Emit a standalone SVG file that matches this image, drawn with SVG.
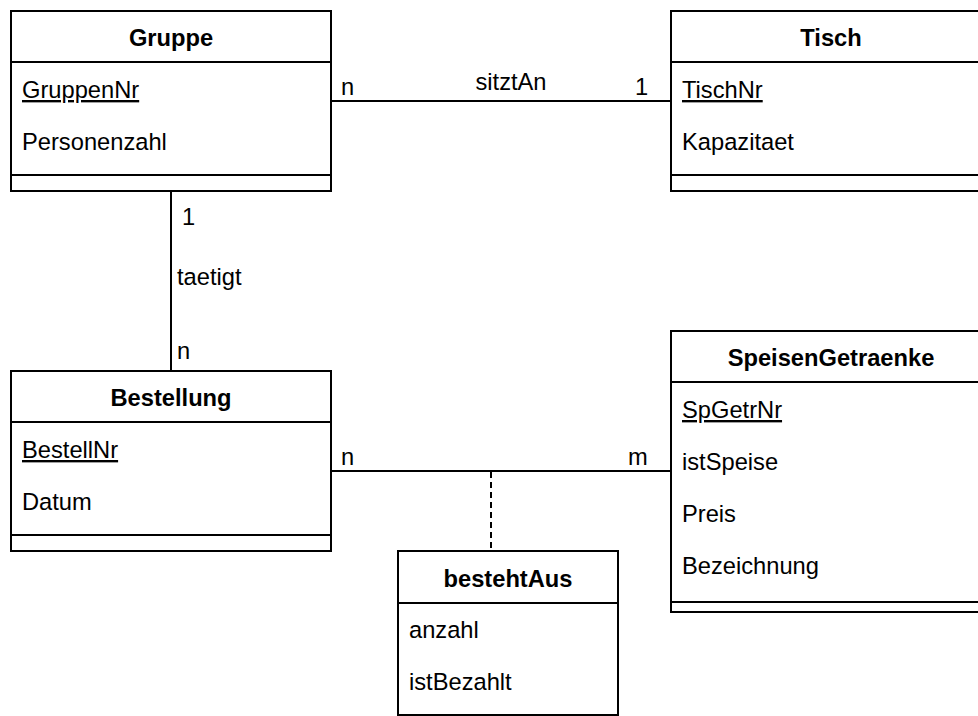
<svg xmlns="http://www.w3.org/2000/svg" width="978" height="716" viewBox="0 0 978 716">
  <style>
    .box { fill: #ffffff; stroke: #000000; stroke-width: 2; }
    .sep { stroke: #000000; stroke-width: 2; fill: none; }
    .edge { stroke: #000000; stroke-width: 2; fill: none; }
    .dash { stroke: #000000; stroke-width: 2; fill: none; stroke-dasharray: 6 4; }
    text { font-family: "Liberation Sans", Arial, sans-serif; font-size: 23.7px; fill: #000000; }
    .title { font-weight: bold; text-anchor: middle; }
    .key { text-decoration: underline; }
    .mid { text-anchor: middle; }
  </style>
  <rect width="978" height="716" fill="#ffffff"/>

  <!-- associations -->
  <g id="connectors">
    <line class="edge" x1="331" y1="101" x2="671" y2="101"/>
    <line class="edge" x1="171" y1="191" x2="171" y2="371"/>
    <line class="edge" x1="331" y1="471" x2="671" y2="471"/>
    <line class="dash" x1="491" y1="472" x2="491" y2="551"/>
    <text x="341" y="95">n</text>
    <text class="mid" x="511" y="90">sitztAn</text>
    <text x="635" y="95">1</text>
    <text x="182" y="225">1</text>
    <text x="177" y="285">taetigt</text>
    <text x="177" y="359">n</text>
    <text x="341" y="465">n</text>
    <text x="628" y="465">m</text>
  </g>

  <g id="gruppe">
    <rect class="box" x="11" y="11" width="320" height="180"/>
    <line class="sep" x1="11" y1="62" x2="331" y2="62"/>
    <line class="sep" x1="11" y1="175" x2="331" y2="175"/>
    <text class="title" x="171" y="46">Gruppe</text>
    <text class="key" x="22" y="98">GruppenNr</text>
    <text x="22" y="150">Personenzahl</text>
  </g>

  <g id="tisch">
    <rect class="box" x="671" y="11" width="320" height="180"/>
    <line class="sep" x1="671" y1="62" x2="991" y2="62"/>
    <line class="sep" x1="671" y1="175" x2="991" y2="175"/>
    <text class="title" x="831" y="46">Tisch</text>
    <text class="key" x="682" y="98">TischNr</text>
    <text x="682" y="150">Kapazitaet</text>
  </g>

  <g id="bestellung">
    <rect class="box" x="11" y="371" width="320" height="180"/>
    <line class="sep" x1="11" y1="422" x2="331" y2="422"/>
    <line class="sep" x1="11" y1="535" x2="331" y2="535"/>
    <text class="title" x="171" y="406">Bestellung</text>
    <text class="key" x="22" y="458">BestellNr</text>
    <text x="22" y="510">Datum</text>
  </g>

  <g id="speisengetraenke">
    <rect class="box" x="671" y="331" width="320" height="281"/>
    <line class="sep" x1="671" y1="382" x2="991" y2="382"/>
    <line class="sep" x1="671" y1="602" x2="991" y2="602"/>
    <text class="title" x="831" y="366">SpeisenGetraenke</text>
    <text class="key" x="682" y="418">SpGetrNr</text>
    <text x="682" y="470">istSpeise</text>
    <text x="682" y="522">Preis</text>
    <text x="682" y="574">Bezeichnung</text>
  </g>

  <g id="bestehtaus">
    <rect class="box" x="398" y="551" width="220" height="164"/>
    <line class="sep" x1="398" y1="603" x2="618" y2="603"/>
    <text class="title" x="508" y="587">bestehtAus</text>
    <text x="409" y="638">anzahl</text>
    <text x="409" y="690">istBezahlt</text>
  </g>
</svg>
